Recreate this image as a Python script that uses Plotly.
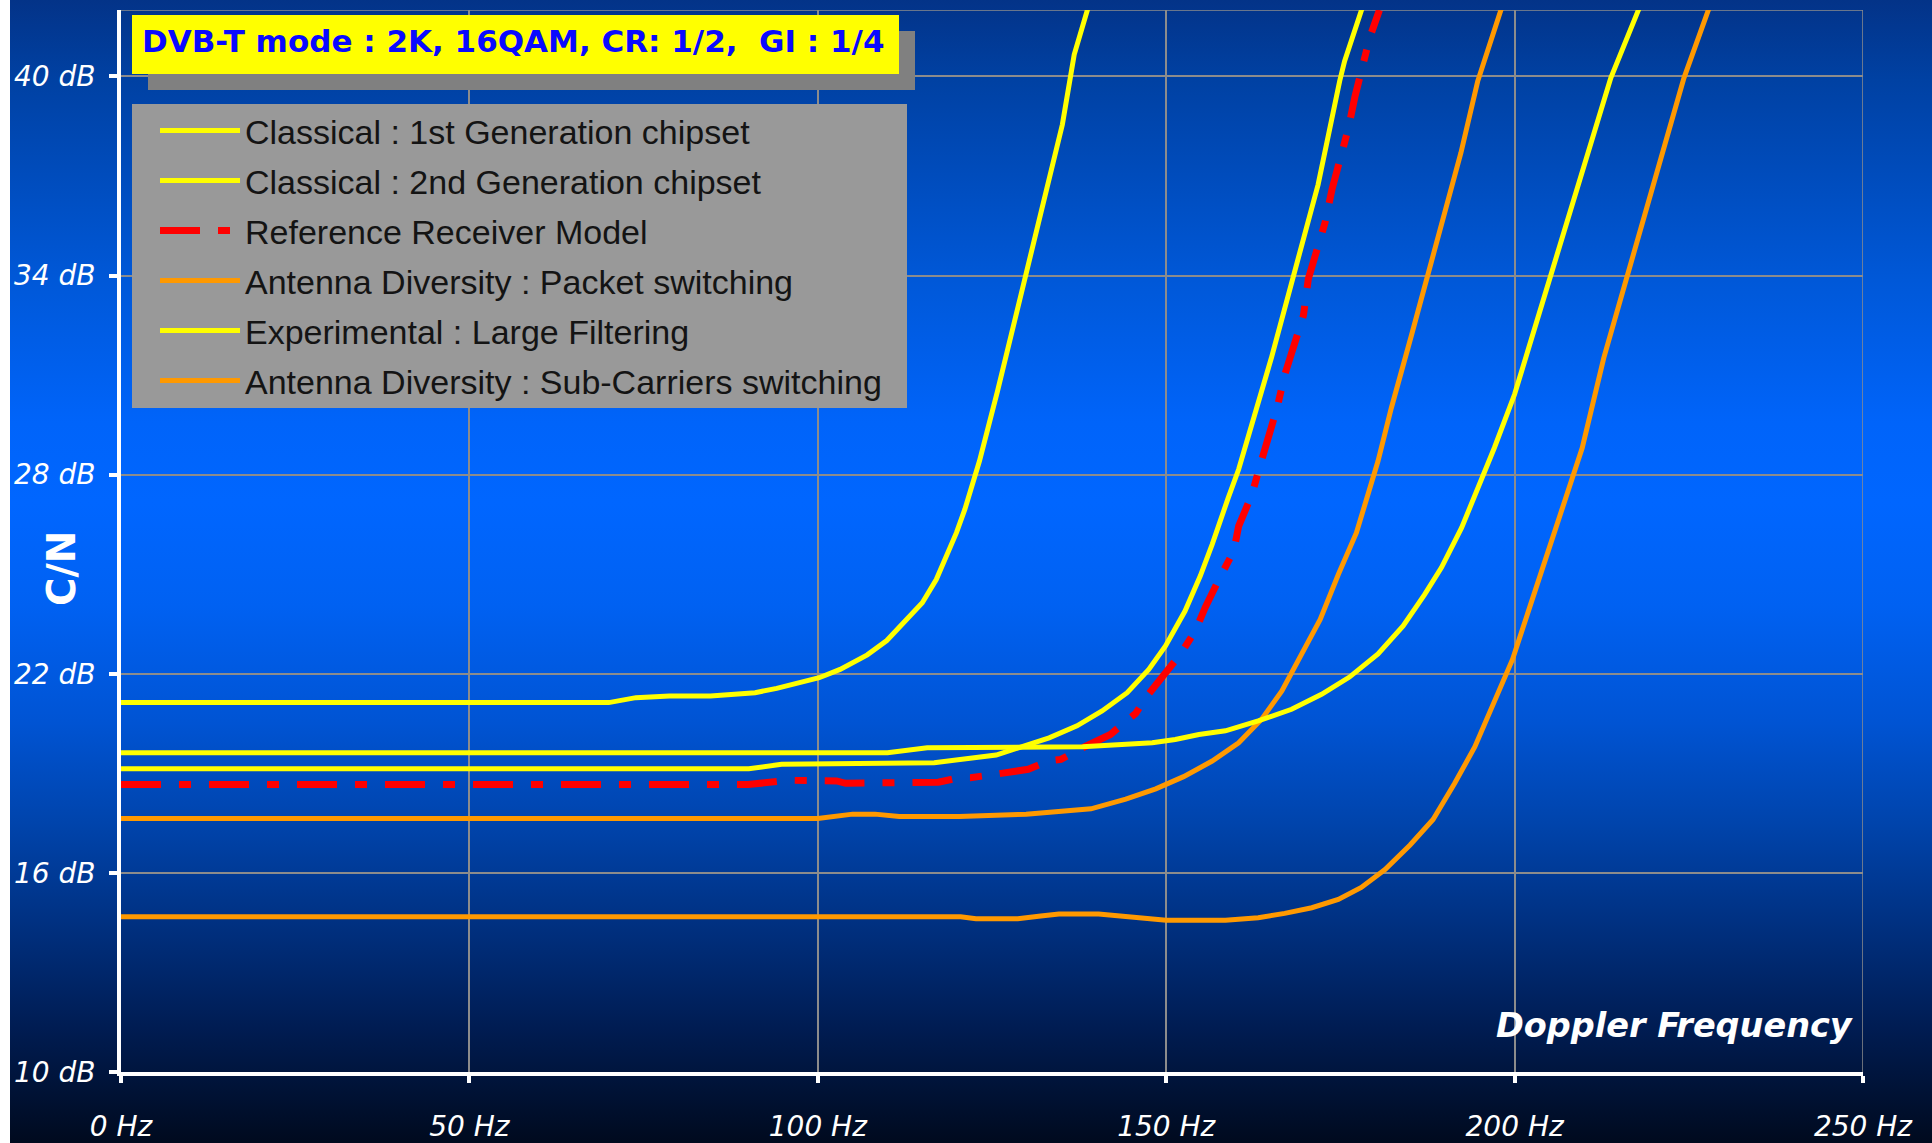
import base64
import plotly.graph_objects as go

# ---------------- data ----------------
c1_f = [0, 70, 73.9, 78.7, 84.6, 91, 94.1, 100.2, 103.2, 107.1, 109.9, 112.4, 115, 117, 118.6,
        119.9, 121.1, 122.4, 123.2, 125.8, 127.9, 130.1, 132.7, 135.1, 136.8, 137.7, 138.9]
c1_db = [21.13, 21.13, 21.28, 21.33, 21.33, 21.43, 21.56, 21.88, 22.13, 22.57, 23.0, 23.54, 24.14, 24.84, 25.6,
         26.25, 26.95, 27.81, 28.41, 30.52, 32.33, 34.13, 36.44, 38.55, 40.66, 41.36, 42.15]

c2_f = [0, 90.1, 94.8, 116.7, 125.6, 133.2, 137.2, 140.8, 144.4, 147.5, 149.9, 152.7, 154.9, 156.6,
        158.9, 160.4, 165.1, 168.5, 171.8, 174.9, 175.6, 178.3]
c2_db = [19.14, 19.14, 19.27, 19.32, 19.55, 20.07, 20.43, 20.88, 21.43, 22.13, 22.84, 23.89, 24.95, 25.9,
         27.3, 28.16, 31.52, 34.13, 36.74, 39.86, 40.46, 42.17]

ref_f = [0, 90, 95.7, 102.7, 104, 108.7, 117.3, 120.3, 121.9, 124.8, 130.2, 133.2, 134.9, 137.5, 142,
         144.4, 145.6, 147.3, 152, 154.2, 155.6, 157.7, 159.7, 160.4, 162.3, 163.5, 165.9, 167, 169.7,
         170.4, 172.8, 173.8, 176.1, 177.1, 179.2, 180.6]
ref_db = [18.66, 18.66, 18.79, 18.77, 18.70, 18.70, 18.73, 18.87, 18.87, 18.95, 19.12, 19.38, 19.42, 19.72, 20.17,
          20.6, 20.8, 21.34, 22.58, 23.3, 24.0, 24.9, 25.7, 26.45, 27.4, 28.3, 30.0, 31.0, 32.8,
          33.9, 35.6, 36.6, 38.4, 39.4, 41.16, 42.0]

ap_f = [0, 100, 105, 108.2, 111.7, 120.3, 129.9, 134.6, 139.2, 144.2, 148.5, 152.5, 156.6, 160.4, 163.7,
        166.6, 169, 172.1, 174.7, 177.3, 180.4, 182.3, 185.2, 187.6, 190, 192.3, 194.7, 196.5, 198.3]
ap_db = [17.64, 17.64, 17.77, 17.77, 17.70, 17.70, 17.77, 17.84, 17.93, 18.22, 18.53, 18.9, 19.37, 19.92, 20.63,
         21.48, 22.39, 23.64, 24.99, 26.25, 28.41, 30.0, 32.2, 34.03, 35.84, 37.7, 39.85, 41.0, 42.17]

el_f = [0, 110, 115.7, 128, 138, 148, 151.3, 154.7, 158.5, 163.2, 168, 172.3, 176.3, 180.4, 184,
        187.1, 189.5, 192.4, 195.2, 197.1, 200, 205.2, 210, 213.8, 218.1]
el_db = [19.62, 19.62, 19.77, 19.77, 19.80, 19.92, 20.02, 20.17, 20.28, 20.58, 20.93, 21.38, 21.9, 22.6, 23.44,
         24.39, 25.2, 26.4, 27.8, 28.81, 30.42, 34.03, 37.34, 39.95, 42.17]

as_f = [0, 120.5, 122.7, 128.7, 132, 134.6, 140.3, 150, 158.5, 163.2, 167, 170.9, 174.7, 178, 181.4,
        185, 188.3, 191.4, 194.3, 197.1, 199.7, 202.3, 205.2, 207.6, 209.7, 212.8, 216.6, 220.5, 224.3, 228.1]
as_db = [14.68, 14.68, 14.62, 14.62, 14.70, 14.76, 14.76, 14.57, 14.57, 14.65, 14.78, 14.95, 15.2, 15.56, 16.1,
         16.84, 17.61, 18.7, 19.8, 21.18, 22.43, 24.09, 25.9, 27.4, 28.8, 31.52, 34.33, 37.14, 39.95, 42.17]

series_names = [
    "Classical : 1st Generation chipset",
    "Classical : 2nd Generation chipset",
    "Reference Receiver Model",
    "Antenna Diversity : Packet switching",
    "Experimental : Large Filtering",
    "Antenna Diversity : Sub-Carriers switching",
]

x_ticks = [0, 50, 100, 150, 200, 250]
y_ticks = [10, 16, 22, 28, 34, 40]
title_text = "DVB-T mode : 2K, 16QAM, CR: 1/2,  GI : 1/4"

# ---------------- layout geometry ----------------
W, H = 1932, 1143
ML, MR, MT, MB = 121, 69, 10, 71
PW, PH = W - ML - MR, H - MT - MB


def px(xp):
    return (xp - ML) / PW


def py(yp):
    return (H - MB - yp) / PH


YELLOW = "#ffff00"
ORANGE = "#ff9900"
RED = "#ff0000"

traces = [
    (c1_f, c1_db, YELLOW, 5, "solid"),
    (c2_f, c2_db, YELLOW, 5, "solid"),
    (ref_f, ref_db, RED, 7, "40px,18px,12px,18px"),
    (ap_f, ap_db, ORANGE, 5, "solid"),
    (el_f, el_db, YELLOW, 5, "solid"),
    (as_f, as_db, ORANGE, 5, "solid"),
]

fig = go.Figure()
for i, (xs, ys, col, w, dash) in enumerate(traces):
    fig.add_trace(go.Scatter(
        x=xs, y=ys, mode="lines", name=series_names[i],
        legendgroup="g%d" % i,
        line=dict(color=col, width=w, dash=dash),
    ))

# background gradient (decoration)
stops = [
    (0.00, "#033388"), (0.07, "#0041a3"), (0.245, "#0058d8"), (0.37, "#0064fa"),
    (0.44, "#0066ff"), (0.53, "#0061f2"), (0.63, "#0054d4"), (0.72, "#0044ac"),
    (0.81, "#003080"), (0.90, "#001c52"), (1.00, "#000a1e"),
]
stop_xml = "".join('<stop offset="%g" stop-color="%s"/>' % s for s in stops)
svg = ('<svg xmlns="http://www.w3.org/2000/svg" width="100" height="100" preserveAspectRatio="none">'
       '<defs><linearGradient id="g" x1="0" y1="0" x2="0" y2="1">' + stop_xml +
       '</linearGradient></defs><rect x="0" y="0" width="100" height="100" fill="url(#g)"/></svg>')
src = "data:image/svg+xml;base64," + base64.b64encode(svg.encode()).decode()
fig.add_layout_image(dict(
    source=src, xref="paper", yref="paper",
    x=px(10), y=py(0), sizex=(W - 10) / PW, sizey=H / PH,
    xanchor="left", yanchor="top", sizing="stretch", layer="below",
))

# plot border (top / right)
fig.add_shape(type="line", xref="x", yref="y", x0=0, x1=250, y0=42, y1=42,
              line=dict(color="#8c8c8c", width=1.5), layer="below")
fig.add_shape(type="line", xref="x", yref="y", x0=250, x1=250, y0=10, y1=42,
              line=dict(color="#8c8c8c", width=1.5), layer="below")

# title box with shadow
fig.add_shape(type="rect", xref="paper", yref="paper", x0=px(148), x1=px(915), y0=py(90), y1=py(31),
              fillcolor="#808080", line=dict(width=0), layer="above")
fig.add_shape(type="rect", xref="paper", yref="paper", x0=px(132), x1=px(899), y0=py(74), y1=py(15),
              fillcolor=YELLOW, line=dict(width=0), layer="above")
fig.add_annotation(x=px(513), y=py(41), xref="paper", yref="paper", text=title_text, showarrow=False,
                   xanchor="center", yanchor="middle",
                   font=dict(family="DejaVu Sans", size=31, color="#0a0aff", weight="bold"))

# legend box
fig.add_shape(type="rect", xref="paper", yref="paper", x0=px(132), x1=px(907), y0=py(408), y1=py(104),
              fillcolor="#999999", line=dict(width=0), layer="above")

# axis titles
fig.add_annotation(x=px(62), y=py(568), xref="paper", yref="paper", text="C/N", showarrow=False,
                   textangle=-90, xanchor="center", yanchor="middle",
                   font=dict(family="DejaVu Sans", size=39, color="white", weight="bold"))
fig.add_annotation(x=px(1856), y=py(1025), xref="paper", yref="paper", text="Doppler Frequency",
                   showarrow=False, xanchor="right", yanchor="middle",
                   font=dict(family="DejaVu Sans", size=33.5, color="white", weight="bold", style="italic"))

tickfont = dict(family="DejaVu Sans", size=28, color="white", style="italic")
fig.update_xaxes(range=[0, 250], tickvals=x_ticks, ticktext=["%d Hz" % v for v in x_ticks],
                 showline=True, linecolor="white", linewidth=4, ticks="outside", ticklen=7, tickwidth=4,
                 tickcolor="white", showgrid=True, gridcolor="#8c8c8c", gridwidth=1.5, zeroline=False,
                 tickfont=tickfont, ticklabelstandoff=19)
fig.update_yaxes(range=[10, 42], tickvals=y_ticks, ticktext=["%d dB" % v for v in y_ticks],
                 showline=True, linecolor="white", linewidth=4, ticks="outside", ticklen=8, tickwidth=4,
                 tickcolor="white", showgrid=True, gridcolor="#8c8c8c", gridwidth=1.5, zeroline=False,
                 tickfont=tickfont, ticklabelstandoff=8)

fig.update_layout(
    width=W, height=H,
    margin=dict(l=ML, r=MR, t=MT, b=MB, autoexpand=False),
    paper_bgcolor="white", plot_bgcolor="rgba(0,0,0,0)",
    showlegend=True,
    legend=dict(x=px(155), y=py(102), xanchor="left", yanchor="top",
                bgcolor="rgba(0,0,0,0)", borderwidth=0, traceorder="grouped",
                tracegroupgap=2.8, itemwidth=80,
                font=dict(family="Liberation Sans", size=34, color="#141414")),
)

fig.write_html("out.html", config={"displayModeBar": False},
               post_script="document.body.style.margin='0px';")
